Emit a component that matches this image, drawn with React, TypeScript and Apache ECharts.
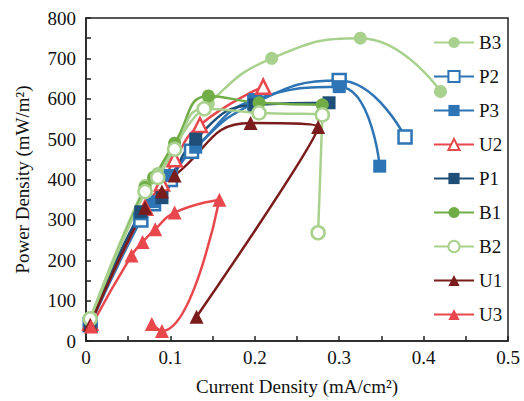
import React, { useEffect, useRef } from "react";
import * as echarts from "echarts";

const seriesNames = ["B3", "P2", "P3", "U2", "P1", "B1", "B2", "U1", "U3"];

const B3 = [[0.005, 55], [0.07, 385], [0.085, 415], [0.105, 485], [0.145, 588], [0.22, 700], [0.325, 750], [0.42, 618]];
const P2 = [[0.005, 40], [0.065, 300], [0.08, 340], [0.1, 400], [0.125, 470], [0.2, 590], [0.3, 645], [0.378, 505]];
const P3 = [[0.005, 45], [0.065, 315], [0.08, 345], [0.1, 410], [0.13, 480], [0.2, 598], [0.3, 630], [0.348, 433]];
const U2 = [[0.005, 45], [0.07, 330], [0.09, 390], [0.105, 450], [0.135, 535], [0.21, 630]];
const P1 = [[0.005, 40], [0.065, 320], [0.09, 355], [0.13, 500], [0.2, 585], [0.288, 590]];
const B1 = [[0.005, 50], [0.07, 380], [0.08, 405], [0.105, 490], [0.145, 607], [0.205, 590], [0.28, 585]];
const B2 = [[0.005, 55], [0.07, 370], [0.085, 405], [0.105, 475], [0.14, 575], [0.205, 565], [0.28, 560], [0.275, 268]];
const U1 = [[0.005, 40], [0.07, 330], [0.09, 370], [0.105, 410], [0.195, 540], [0.275, 530], [0.131, 60]];
const U3 = [[0.006, 36], [0.054, 212], [0.067, 245], [0.082, 277], [0.105, 318], [0.158, 350], [0.09, 25], [0.078, 42]];

const xTicks = [0, 0.1, 0.2, 0.3, 0.4, 0.5];
const yTicks = [0, 100, 200, 300, 400, 500, 600, 700, 800];

const styles: Record<string, { color: string; symbol: string; hollow: boolean }> = {
  B3: { color: "#a9d18e", symbol: "circle", hollow: false },
  P2: { color: "#2e75b6", symbol: "rect", hollow: true },
  P3: { color: "#2e75b6", symbol: "rect", hollow: false },
  U2: { color: "#e8474c", symbol: "triangle", hollow: true },
  P1: { color: "#1f4e79", symbol: "rect", hollow: false },
  B1: { color: "#70ad47", symbol: "circle", hollow: false },
  B2: { color: "#a9d18e", symbol: "circle", hollow: true },
  U1: { color: "#7b1c1c", symbol: "triangle", hollow: false },
  U3: { color: "#e8474c", symbol: "triangle", hollow: false },
};

const dataMap: Record<string, number[][]> = { B3, P2, P3, U2, P1, B1, B2, U1, U3 };

export default function App() {
  const ref = useRef<HTMLDivElement>(null);
  useEffect(() => {
    if (!ref.current) return;
    const chart = echarts.init(ref.current, null, { renderer: "svg" });
    const font = "Liberation Serif";
    const series = seriesNames.map((name) => {
      const s = styles[name];
      return {
        name,
        type: "line",
        data: dataMap[name],
        smooth: 0.5,
        symbol: s.symbol,
        symbolSize: s.symbol === "triangle" ? 14 : 13,
        lineStyle: { color: s.color, width: 2.5 },
        itemStyle: s.hollow
          ? { color: "#ffffff", borderColor: s.color, borderWidth: 2.5 }
          : { color: s.color, borderColor: s.color, borderWidth: 0 },
        z: 2,
      };
    });
    chart.setOption({
      animation: false,
      backgroundColor: "#ffffff",
      textStyle: { fontFamily: font },
      grid: { left: 86, right: 16, top: 18, bottom: 60, show: true, borderColor: "#222", borderWidth: 1.5, backgroundColor: "transparent" },
      legend: {
        orient: "vertical",
        left: 433,
        top: 33,
        padding: 0,
        itemWidth: 40,
        itemHeight: 14,
        itemGap: 15,
        data: seriesNames,
        textStyle: { fontFamily: font, fontSize: 19, color: "#111" },
        backgroundColor: "transparent",
      },
      xAxis: {
        type: "value",
        min: 0,
        max: 0.5,
        interval: 0.05,
        name: "Current Density (mA/cm²)",
        nameLocation: "middle",
        nameGap: 36,
        nameTextStyle: { fontFamily: font, fontSize: 19, color: "#111" },
        axisLine: { show: true, lineStyle: { color: "#222", width: 1.5 } },
        axisTick: { show: true, inside: true, length: 5, lineStyle: { color: "#222", width: 1.5 } },
        splitLine: { show: false },
        axisLabel: {
          fontFamily: font,
          fontSize: 19,
          color: "#111",
          margin: 7,
          formatter: (v: number) => {
            const t = xTicks.find((k) => Math.abs(k - v) < 1e-6);
            return t === undefined ? "" : String(t);
          },
        },
      },
      yAxis: {
        type: "value",
        min: 0,
        max: 800,
        interval: 50,
        name: "Power Density (mW/m²)",
        nameLocation: "middle",
        nameGap: 54,
        nameTextStyle: { fontFamily: font, fontSize: 19, color: "#111" },
        axisLine: { show: true, lineStyle: { color: "#222", width: 1.5 } },
        axisTick: { show: true, inside: true, length: 5, lineStyle: { color: "#222", width: 1.5 } },
        splitLine: { show: false },
        axisLabel: {
          fontFamily: font,
          fontSize: 19,
          color: "#111",
          margin: 10,
          formatter: (v: number) => {
            const t = yTicks.find((k) => Math.abs(k - v) < 1e-6);
            return t === undefined ? "" : String(t);
          },
        },
      },
      series,
    });
    return () => chart.dispose();
  }, []);
  return <div ref={ref} style={{ width: 524, height: 401, position: "absolute", left: 0, top: 0 }} />;
}
